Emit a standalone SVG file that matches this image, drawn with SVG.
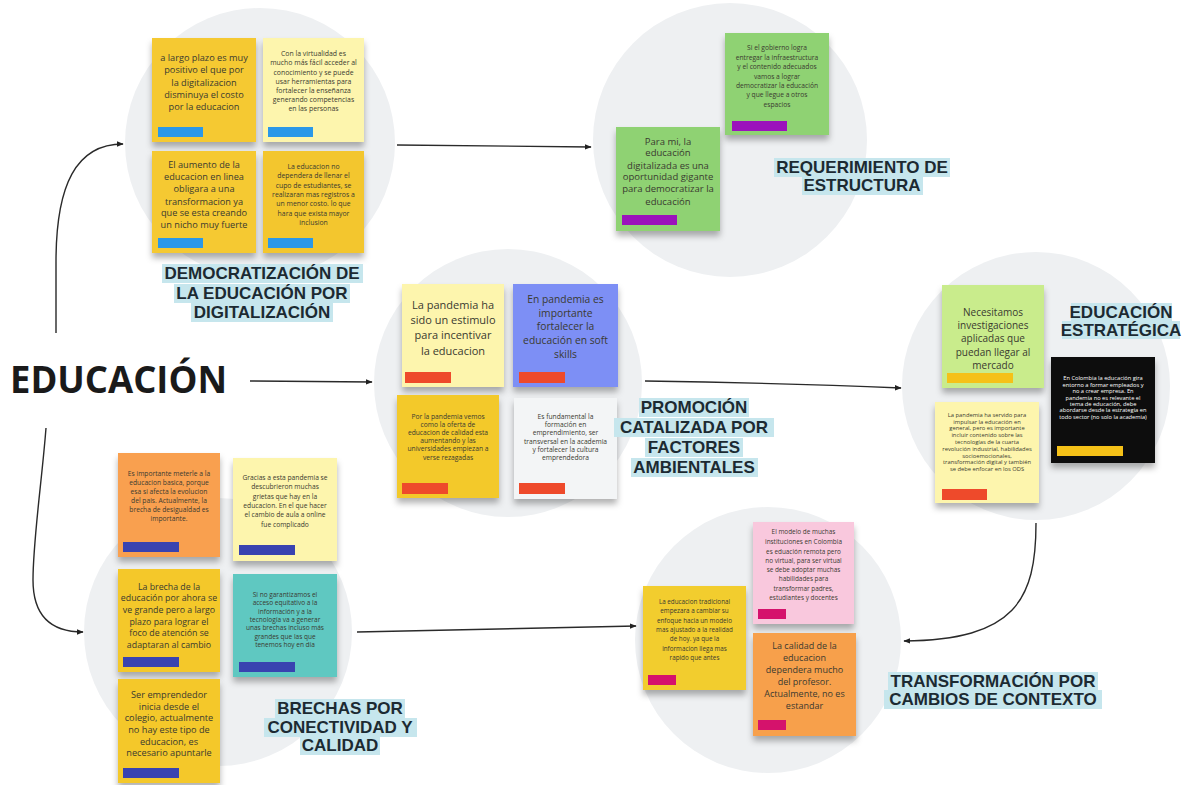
<svg xmlns="http://www.w3.org/2000/svg" width="1187" height="785" viewBox="0 0 1187 785">
<defs>
<filter id="sh" x="-20%" y="-20%" width="140%" height="150%"><feDropShadow dx="0" dy="5" stdDeviation="3" flood-color="#000" flood-opacity="0.3"/></filter>
<marker id="arr" viewBox="0 0 10 10" refX="9" refY="5" markerWidth="7" markerHeight="7" orient="auto" markerUnits="userSpaceOnUse"><path d="M0,1 L10,5 L0,9 z" fill="#222"/></marker>
</defs>
<style>
.bg{fill:#eef0f2}
.n{font-family:"Open Sans","Noto Sans",sans-serif;fill:#3a3a30;text-anchor:middle}
.w{fill:#ffffff}
.lab{font-family:"Liberation Sans",Arial,sans-serif;font-weight:bold;font-size:17px;fill:#1c2a32;text-anchor:middle}
.hl{fill:#c6e6ed}
.con{fill:none;stroke:#2a2a2a;stroke-width:1.4;marker-end:url(#arr)}
.note{filter:url(#sh)}
.tb{fill:#2b98e8}.tp{fill:#9b12bc}.tr{fill:#ee4a2b}.ty{fill:#f5c118}.td{fill:#3943b0}.tm{fill:#d5126c}
</style>
<rect width="1187" height="785" fill="#ffffff"/>

<g id="circles">
<circle class="bg" cx="260" cy="143" r="135"/>
<circle class="bg" cx="730" cy="140" r="137"/>
<circle class="bg" cx="508" cy="383" r="134"/>
<circle class="bg" cx="1036" cy="386" r="134"/>
<circle class="bg" cx="218" cy="632" r="134"/>
<circle class="bg" cx="768" cy="640" r="133"/>
</g>

<g id="connectors">
<path class="con" d="M56,333 L56,262 C56,185 76,144 123,144"/>
<path class="con" d="M250,381 L372,382"/>
<path class="con" d="M46,428 C42,480 33,540 33,580 C33,615 50,632 83,632"/>
<path class="con" d="M397,145 L591,147"/>
<path class="con" d="M645,381 Q780,383 901,388"/>
<path class="con" d="M1036,523 C1036,600 1015,640 904,641"/>
<path class="con" d="M357,632 L636,626"/>
</g>

<g id="educacion">
<text x="10" y="393" font-family="'Open Sans','Noto Sans',sans-serif" font-weight="bold" font-size="37" fill="#1a1a1a" textLength="217" lengthAdjust="spacingAndGlyphs">EDUCACIÓN</text>
</g>

<!-- Cluster 1 -->
<g id="note-tl1">
<rect class="note" x="152" y="38" width="104" height="104" fill="#f5c932"/>
<text class="n" font-size="9.2"><tspan x="204" y="61">a largo plazo es muy</tspan><tspan x="204" y="73">positivo el que por</tspan><tspan x="204" y="86">la digitalizacion</tspan><tspan x="204" y="98">disminuya el costo</tspan><tspan x="204" y="110">por la educacion</tspan></text>
<rect class="tb" x="158" y="127" width="45" height="10"/>
</g>
<g id="note-tl2">
<rect class="note" x="263" y="38" width="101" height="104" fill="#fdf5ad"/>
<text class="n" font-size="6.9"><tspan x="313.5" y="56">Con la virtualidad es</tspan><tspan x="313.5" y="65">mucho más fácil acceder al</tspan><tspan x="313.5" y="75">conocimiento y se puede</tspan><tspan x="313.5" y="84">usar herramientas para</tspan><tspan x="313.5" y="93">fortalecer la enseñanza</tspan><tspan x="313.5" y="102">generando competencias</tspan><tspan x="313.5" y="111">en las personas</tspan></text>
<rect class="tb" x="268" y="127" width="45" height="10"/>
</g>
<g id="note-tl3">
<rect class="note" x="152" y="151" width="104" height="102" fill="#f5c932"/>
<text class="n" font-size="9.2"><tspan x="204" y="168">El aumento de la</tspan><tspan x="204" y="180">educacion en linea</tspan><tspan x="204" y="192">obligara a una</tspan><tspan x="204" y="205">transformacion ya</tspan><tspan x="204" y="216">que se esta creando</tspan><tspan x="204" y="228">un nicho muy fuerte</tspan></text>
<rect class="tb" x="158" y="238" width="45" height="10"/>
</g>
<g id="note-tl4">
<rect class="note" x="263" y="151" width="101" height="102" fill="#f3c62f"/>
<text class="n" font-size="6.9"><tspan x="313.5" y="169">La educacion no</tspan><tspan x="313.5" y="178">dependera de llenar el</tspan><tspan x="313.5" y="188">cupo de estudiantes, se</tspan><tspan x="313.5" y="197">realizaran mas registros a</tspan><tspan x="313.5" y="206">un menor costo. lo que</tspan><tspan x="313.5" y="216">hara que exista mayor</tspan><tspan x="313.5" y="225">inclusion</tspan></text>
<rect class="tb" x="268" y="238" width="45" height="10"/>
</g>
<g id="label-democratizacion">
<rect class="hl" x="162" y="264" width="201" height="19"/>
<rect class="hl" x="174" y="284" width="176" height="19"/>
<rect class="hl" x="191" y="303" width="142" height="19"/>
<text class="lab"><tspan x="262" y="279">DEMOCRATIZACIÓN DE</tspan><tspan x="262" y="299">LA EDUCACIÓN POR</tspan><tspan x="262" y="318">DIGITALIZACIÓN</tspan></text>
</g>

<!-- Cluster 2 -->
<g id="note-tr1">
<rect class="note" x="725" y="33" width="104" height="102" fill="#8fd273"/>
<text class="n" font-size="6.7"><tspan x="777" y="50">Si el gobierno logra</tspan><tspan x="777" y="60">entregar la infraestructura</tspan><tspan x="777" y="69">y el contenido adecuados</tspan><tspan x="777" y="79">vamos a lograr</tspan><tspan x="777" y="88">democratizar la educación</tspan><tspan x="777" y="97">y que llegue a otros</tspan><tspan x="777" y="107">espacios</tspan></text>
<rect class="tp" x="732" y="121" width="55" height="10"/>
</g>
<g id="note-tr2">
<rect class="note" x="616" y="127" width="104" height="104" fill="#8fd273"/>
<text class="n" font-size="9.5"><tspan x="668" y="145">Para mi, la</tspan><tspan x="668" y="156">educación</tspan><tspan x="668" y="169">digitalizada es una</tspan><tspan x="668" y="180">oportunidad gigante</tspan><tspan x="668" y="192">para democratizar la</tspan><tspan x="668" y="205">educación</tspan></text>
<rect class="tp" x="622" y="215" width="55" height="10"/>
</g>
<g id="label-requerimiento">
<rect class="hl" x="774" y="158" width="176" height="19"/>
<rect class="hl" x="802" y="176" width="121" height="19"/>
<text class="lab"><tspan x="862" y="173">REQUERIMIENTO DE</tspan><tspan x="862" y="191">ESTRUCTURA</tspan></text>
</g>

<!-- Cluster 3 -->
<g id="note-m1">
<rect class="note" x="402" y="284" width="102" height="103" fill="#fdf5ad"/>
<text class="n" font-size="11"><tspan x="453" y="309">La pandemia ha</tspan><tspan x="453" y="324">sido un estimulo</tspan><tspan x="453" y="339">para incentivar</tspan><tspan x="453" y="355">la educacion</tspan></text>
<rect class="tr" x="405" y="372" width="46" height="11"/>
</g>
<g id="note-m2">
<rect class="note" x="513" y="284" width="105" height="103" fill="#7d8ff5"/>
<text class="n" font-size="10.3"><tspan x="565.5" y="303">En pandemia es</tspan><tspan x="565.5" y="317">importante</tspan><tspan x="565.5" y="330">fortalecer la</tspan><tspan x="565.5" y="344">educación en soft</tspan><tspan x="565.5" y="358">skills</tspan></text>
<rect class="tr" x="519" y="372" width="46" height="11"/>
</g>
<g id="note-m3">
<rect class="note" x="397" y="395" width="102" height="103" fill="#f3c92c"/>
<text class="n" font-size="6.7"><tspan x="448" y="419">Por la pandemia vemos</tspan><tspan x="448" y="427">como la oferta de</tspan><tspan x="448" y="435">educacion de calidad esta</tspan><tspan x="448" y="443">aumentando y las</tspan><tspan x="448" y="451">universidades empiezan a</tspan><tspan x="448" y="460">verse rezagadas</tspan></text>
<rect class="tr" x="402" y="483" width="46" height="11"/>
</g>
<g id="note-m4">
<rect class="note" x="514" y="398" width="103" height="101" fill="#f3f5f6"/>
<text class="n" font-size="6.7"><tspan x="565.5" y="419">Es fundamental la</tspan><tspan x="565.5" y="427">formación en</tspan><tspan x="565.5" y="435">emprendimiento, ser</tspan><tspan x="565.5" y="444">transversal en la academia</tspan><tspan x="565.5" y="452">y fortalecer la cultura</tspan><tspan x="565.5" y="460">emprendedora</tspan></text>
<rect class="tr" x="519" y="483" width="46" height="11"/>
</g>
<g id="label-promocion">
<rect class="hl" x="639" y="398" width="110" height="19"/>
<rect class="hl" x="614" y="418" width="160" height="19"/>
<rect class="hl" x="645" y="438" width="98" height="19"/>
<rect class="hl" x="631" y="458" width="127" height="19"/>
<text class="lab"><tspan x="694" y="413">PROMOCIÓN</tspan><tspan x="694" y="433">CATALIZADA POR</tspan><tspan x="694" y="453">FACTORES</tspan><tspan x="694" y="473">AMBIENTALES</tspan></text>
</g>

<!-- Cluster 4 -->
<g id="note-r1">
<rect class="note" x="942" y="285" width="102" height="103" fill="#c9ec8c"/>
<text class="n" font-size="10"><tspan x="993" y="316">Necesitamos</tspan><tspan x="993" y="329">investigaciones</tspan><tspan x="993" y="342">aplicadas que</tspan><tspan x="993" y="356">puedan llegar al</tspan><tspan x="993" y="369">mercado</tspan></text>
<rect class="ty" x="947" y="373" width="66" height="10"/>
</g>
<g id="note-r2">
<rect class="note" x="1051" y="357" width="104" height="106" fill="#0d0d0d"/>
<text class="n w" font-size="5.7"><tspan x="1103" y="380">En Colombia la educación gira</tspan><tspan x="1103" y="387">entorno a formar empleados y</tspan><tspan x="1103" y="393">no a crear empresa. En</tspan><tspan x="1103" y="400">pandemia no es relevante el</tspan><tspan x="1103" y="406">tema de educación, debe</tspan><tspan x="1103" y="412">abordarse desde la estrategia en</tspan><tspan x="1103" y="419">todo sector (no solo la academia)</tspan></text>
<rect class="ty" x="1057" y="446" width="66" height="10"/>
</g>
<g id="note-r3">
<rect class="note" x="935" y="402" width="104" height="101" fill="#fdf5ad"/>
<text class="n" font-size="5.8"><tspan x="987" y="417">La pandemia ha servido para</tspan><tspan x="987" y="424">impulsar la educación en</tspan><tspan x="987" y="430">general, pero es importante</tspan><tspan x="987" y="437">incluir contenido sobre las</tspan><tspan x="987" y="444">tecnologías de la cuarta</tspan><tspan x="987" y="451">revolución industrial, habilidades</tspan><tspan x="987" y="458">socioemocionales,</tspan><tspan x="987" y="464">transformación digital y también</tspan><tspan x="987" y="471">se debe enfocar en los ODS</tspan></text>
<rect class="tr" x="942" y="489" width="45" height="11"/>
</g>
<g id="label-estrategica">
<rect class="hl" x="1071" y="303" width="101" height="18"/>
<rect class="hl" x="1062" y="321" width="118" height="18"/>
<text class="lab" font-size="16"><tspan x="1121" y="318">EDUCACIÓN</tspan><tspan x="1121" y="336">ESTRATÉGICA</tspan></text>
</g>

<!-- Cluster 5 -->
<g id="note-bl1">
<rect class="note" x="118" y="453" width="102" height="104" fill="#f9a050"/>
<text class="n" font-size="6.7"><tspan x="169" y="476">Es importante meterle a la</tspan><tspan x="169" y="485">educacion basica, porque</tspan><tspan x="169" y="494">esa si afecta la evolucion</tspan><tspan x="169" y="503">del pais. Actualmente, la</tspan><tspan x="169" y="512">brecha de desigualdad es</tspan><tspan x="169" y="521">importante.</tspan></text>
<rect class="td" x="123" y="542" width="56" height="10"/>
</g>
<g id="note-bl2">
<rect class="note" x="233" y="458" width="104" height="103" fill="#fdf5ad"/>
<text class="n" font-size="6.7"><tspan x="285" y="480">Gracias a esta pandemia se</tspan><tspan x="285" y="489">descubrieron muchas</tspan><tspan x="285" y="499">grietas que hay en la</tspan><tspan x="285" y="508">educacion. En el que hacer</tspan><tspan x="285" y="517">el cambio de aula a online</tspan><tspan x="285" y="527">fue complicado</tspan></text>
<rect class="td" x="239" y="545" width="56" height="10"/>
</g>
<g id="note-bl3">
<rect class="note" x="118" y="569" width="102" height="103" fill="#f4c82c"/>
<text class="n" font-size="8.8"><tspan x="169" y="590">La brecha de la</tspan><tspan x="169" y="601">educación por ahora se</tspan><tspan x="169" y="613">ve grande pero a largo</tspan><tspan x="169" y="625">plazo para lograr el</tspan><tspan x="169" y="636">foco de atención se</tspan><tspan x="169" y="648">adaptaran al cambio</tspan></text>
<rect class="td" x="123" y="657" width="56" height="10"/>
</g>
<g id="note-bl4">
<rect class="note" x="233" y="574" width="104" height="103" fill="#5fc8c1"/>
<text class="n" font-size="6.5"><tspan x="285" y="597">Si no garantizamos el</tspan><tspan x="285" y="605">acceso equitativo a la</tspan><tspan x="285" y="614">información y a la</tspan><tspan x="285" y="622">tecnología va a generar</tspan><tspan x="285" y="630">unas brechas incluso  más</tspan><tspan x="285" y="639">grandes que las que</tspan><tspan x="285" y="647">tenemos hoy en día</tspan></text>
<rect class="td" x="239" y="662" width="56" height="10"/>
</g>
<g id="note-bl5">
<rect class="note" x="118" y="679" width="102" height="104" fill="#f4c82c"/>
<text class="n" font-size="9.2"><tspan x="169" y="698">Ser emprendedor</tspan><tspan x="169" y="710">inicia desde el</tspan><tspan x="169" y="721">colegio, actualmente</tspan><tspan x="169" y="733">no hay este tipo de</tspan><tspan x="169" y="745">educacion, es</tspan><tspan x="169" y="756">necesario apuntarle</tspan></text>
<rect class="td" x="123" y="768" width="56" height="10"/>
</g>
<g id="label-brechas">
<rect class="hl" x="275" y="699" width="130" height="19"/>
<rect class="hl" x="264" y="718" width="153" height="19"/>
<rect class="hl" x="300" y="736" width="80" height="19"/>
<text class="lab"><tspan x="340" y="714">BRECHAS POR</tspan><tspan x="340" y="733">CONECTIVIDAD Y</tspan><tspan x="340" y="751">CALIDAD</tspan></text>
</g>

<!-- Cluster 6 -->
<g id="note-br1">
<rect class="note" x="643" y="586" width="103" height="104" fill="#f2cd2e"/>
<text class="n" font-size="6.3"><tspan x="694.5" y="604">La educacion tradicional</tspan><tspan x="694.5" y="613">empezara a cambiar su</tspan><tspan x="694.5" y="623">enfoque hacia un modelo</tspan><tspan x="694.5" y="632">mas ajustado a la realidad</tspan><tspan x="694.5" y="641">de hoy. ya que la</tspan><tspan x="694.5" y="651">informacion llega mas</tspan><tspan x="694.5" y="660">rapido que antes</tspan></text>
<rect class="tm" x="648" y="675" width="28" height="10"/>
</g>
<g id="note-br2">
<rect class="note" x="753" y="522" width="101" height="102" fill="#f9c8dd"/>
<text class="n" font-size="6.4"><tspan x="803.5" y="534">El modelo de muchas</tspan><tspan x="803.5" y="544">instituciones en Colombia</tspan><tspan x="803.5" y="554">es eduación remota pero</tspan><tspan x="803.5" y="563">no virtual, para ser virtual</tspan><tspan x="803.5" y="572">se debe adoptar muchas</tspan><tspan x="803.5" y="581">habilidades para</tspan><tspan x="803.5" y="591">transformar padres,</tspan><tspan x="803.5" y="600">estudiantes y docentes</tspan></text>
<rect class="tm" x="758" y="609" width="28" height="10"/>
</g>
<g id="note-br3">
<rect class="note" x="753" y="633" width="103" height="103" fill="#f7a04b"/>
<text class="n" font-size="9"><tspan x="804.5" y="649">La calidad de la</tspan><tspan x="804.5" y="661">educacion</tspan><tspan x="804.5" y="673">dependera mucho</tspan><tspan x="804.5" y="685">del profesor.</tspan><tspan x="804.5" y="697">Actualmente, no es</tspan><tspan x="804.5" y="709">estandar</tspan></text>
<rect class="tm" x="758" y="720" width="28" height="10"/>
</g>
<g id="label-transformacion">
<rect class="hl" x="888" y="672" width="210" height="19"/>
<rect class="hl" x="884" y="690" width="218" height="19"/>
<text class="lab"><tspan x="993" y="687">TRANSFORMACIÓN POR</tspan><tspan x="993" y="705">CAMBIOS DE CONTEXTO</tspan></text>
</g>
</svg>
